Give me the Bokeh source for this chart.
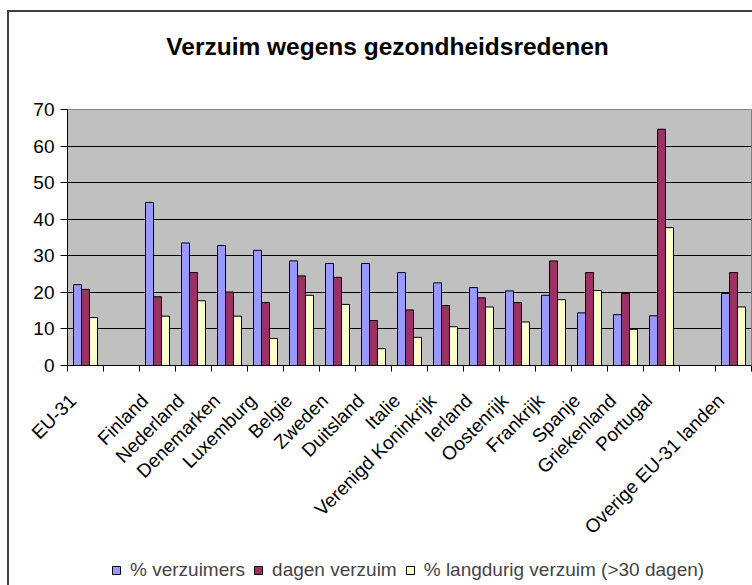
import math
from bokeh.plotting import figure
from bokeh.layouts import column
from bokeh.models import Range1d, FixedTicker, Legend, LegendItem, ColumnDataSource, Label
from bokeh.embed import file_html
from bokeh.resources import INLINE

# ---------------- data ----------------
categories = ["EU-31", "", "Finland", "Nederland", "Denemarken", "Luxemburg",
              "Belgie", "Zweden", "Duitsland", "Italie", "Verenigd Koninkrijk",
              "Ierland", "Oostenrijk", "Frankrijk", "Spanje", "Griekenland",
              "Portugal", "", "Overige EU-31 landen"]
series_names = ["% verzuimers", "dagen verzuim", "% langdurig verzuim (>30 dagen)"]
pct_verzuimers = [22.1, None, 44.6, 33.5, 32.8, 31.5, 28.6, 27.9, 27.9, 25.4, 22.6,
                  21.3, 20.4, 19.2, 14.4, 13.9, 13.6, None, 19.7]
dagen_verzuim = [20.8, None, 18.8, 25.4, 20.1, 17.2, 24.5, 24.1, 12.3, 15.2, 16.4,
                 18.5, 17.2, 28.6, 25.4, 19.7, 64.6, None, 25.4]
pct_langdurig = [13.1, None, 13.5, 17.7, 13.5, 7.4, 19.2, 16.7, 4.6, 7.7, 10.6,
                 16.0, 11.9, 18.0, 20.5, 9.9, 37.7, None, 16.0]
y_ticks = [0, 10, 20, 30, 40, 50, 60, 70]
title_text = "Verzuim wegens gezondheidsredenen"

colors = ["#9999FF", "#993366", "#FFFFCC"]
FONT = "Liberation Sans"

n = len(categories)
W = 743
BL, BR = 58, 1
FW = W - BL - BR
H_TOP = 85
H_MAIN = 458
H_LEG = 30

# ---------- title strip ----------
t = figure(width=W, height=H_TOP, x_range=Range1d(0, FW), y_range=Range1d(0, H_TOP),
           output_backend="svg", toolbar_location=None,
           x_axis_type=None, y_axis_type=None,
           min_border_left=BL, min_border_right=BR, min_border_top=0, min_border_bottom=0,
           background_fill_color="white", border_fill_color="white")
t.title_location = None
t.outline_line_color = None
t.xgrid.grid_line_color = None
t.ygrid.grid_line_color = None
t.add_layout(Label(x=320, y=H_TOP - 34, text=title_text, text_font=FONT,
                   text_font_size="24.5px", text_font_style="bold", text_color="black",
                   text_align="center", text_baseline="middle"))

# ---------- main chart ----------
p = figure(width=W, height=H_MAIN,
           x_range=Range1d(0, n), y_range=Range1d(y_ticks[0], y_ticks[-1]),
           output_backend="svg", toolbar_location=None,
           min_border_left=BL, min_border_right=BR, min_border_top=12,
           min_border_bottom=190,
           background_fill_color="#C0C0C0", border_fill_color="white")
p.title_location = None

bar_w = 0.222
offsets = [-bar_w, 0.0, bar_w]
sources = []
for vals, off in zip([pct_verzuimers, dagen_verzuim, pct_langdurig], offsets):
    xs = [i + 0.5 + off for i, v in enumerate(vals) if v is not None]
    tops = [v for v in vals if v is not None]
    sources.append(ColumnDataSource(dict(x=xs, top=tops)))
for src, col in zip(sources, colors):
    p.vbar(x="x", top="top", bottom=0, width=bar_w, source=src,
           fill_color=col, line_color="black", line_width=1)

# y axis
yax = p.yaxis[0]
yax.ticker = FixedTicker(ticks=y_ticks)
yax.major_label_text_font = FONT
yax.major_label_text_font_size = "19px"
yax.major_label_text_color = "black"
yax.major_tick_out = 7
yax.major_tick_in = 0
yax.minor_tick_line_color = None
yax.major_label_standoff = 6
yax.axis_line_color = "black"
yax.major_tick_line_color = "black"

# x axis: labels near category centres, ticks at category boundaries
xax = p.xaxis[0]
label_pos = [round(i + 0.15, 3) for i in range(n)]
xax.ticker = FixedTicker(ticks=label_pos, minor_ticks=list(range(n + 1)))
xax.major_label_overrides = {c: lab for c, lab in zip(label_pos, categories)}
xax.major_label_orientation = math.pi / 4
xax.major_label_text_font = FONT
xax.major_label_text_font_size = "19px"
xax.major_label_text_color = "black"
xax.major_tick_out = 0
xax.major_tick_in = 0
xax.minor_tick_out = 6
xax.minor_tick_in = 0
xax.minor_tick_line_color = "black"
xax.major_label_standoff = 26
xax.axis_line_color = "black"

# grid
p.xgrid.grid_line_color = None
p.ygrid.ticker = FixedTicker(ticks=y_ticks[1:-1])
p.ygrid.grid_line_color = "black"
p.ygrid.grid_line_width = 1
p.outline_line_color = "#808080"
p.outline_line_width = 1

# ---------- legend strip ----------
q = figure(width=W, height=H_LEG, x_range=Range1d(-200, -199), y_range=Range1d(0, 1),
           output_backend="svg", toolbar_location=None,
           x_axis_type=None, y_axis_type=None,
           min_border_left=BL, min_border_right=BR, min_border_top=0, min_border_bottom=0,
           background_fill_color="white", border_fill_color="white")
q.title_location = None
q.outline_line_color = None
q.xgrid.grid_line_color = None
q.ygrid.grid_line_color = None
leg_rs = [q.scatter(x="x", y="top", marker="square", size=8, source=src, fill_color=col,
                    line_color="black", line_width=1)
          for src, col in zip(sources, colors)]
legend = Legend(items=[LegendItem(label=nm, renderers=[r]) for nm, r in zip(series_names, leg_rs)],
                orientation="horizontal", location=(39, 4),
                label_text_font=FONT, label_text_font_size="19px",
                glyph_width=20, glyph_height=20, spacing=3, padding=0, margin=0,
                label_standoff=4, border_line_color=None, background_fill_alpha=0)
q.add_layout(legend)

layout = column(t, p, q, spacing=0)
layout.styles = {"border-left": "2px solid #404040", "border-top": "2px solid #404040",
                 "margin-left": "7px", "margin-top": "10px"}

open("out.html", "w").write(file_html(layout, INLINE))
